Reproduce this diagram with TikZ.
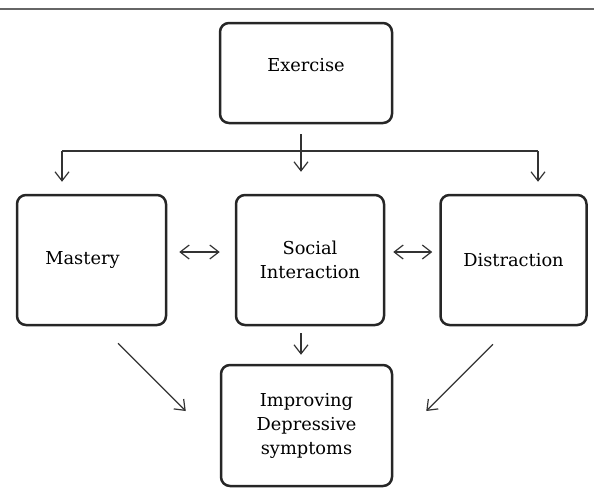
\documentclass[tikz,border=0pt]{standalone}
\usepackage{fontspec}
\setmainfont{DejaVu Serif}
\usetikzlibrary{arrows.meta}
\tikzset{
  box/.style={draw=black!85, line width=1.25pt, rounded corners=4.5pt, align=center,
              font=\fontsize{8.9}{12}\selectfont},
  arr/.style={black!80, line width=0.6pt, -{Straight Barb[length=4.5pt,width=7pt]}},
  darr/.style={black!80, line width=0.6pt, {Straight Barb[length=4.5pt,width=7pt]}-{Straight Barb[length=4.5pt,width=7pt]}},
  rule/.style={black!60, line width=1pt},
}
\begin{document}
\begin{tikzpicture}[x=0.5pt, y=-0.5pt]
  \useasboundingbox (0,0) rectangle (594,488);
  % top rule
  \draw[rule] (0,9) -- (594,9);
  % boxes
  \node[box, minimum width=86pt, minimum height=50pt, text depth=8pt] (ex) at (306,73) {Exercise};
  \node[box, minimum width=74.5pt, minimum height=65pt] (ma) at (91.5,260) {Mastery\hspace*{9pt}};
  \node[box, minimum width=74pt, minimum height=65pt] (so) at (310,260) {Social\\Interaction};
  \node[box, minimum width=73pt, minimum height=65pt] (di) at (513.5,260) {Distraction};
  \node[box, minimum width=85.5pt, minimum height=60.5pt] (im) at (306.5,425.5) {Improving\\Depressive\\symptoms};
  % exercise branches out
  \coordinate (hub) at (301,151);
  \coordinate (hubL) at (62,151);
  \coordinate (hubR) at (538,151);
  \draw[black!80, line width=0.6pt] (hubL) -- (hubR);
  \draw[arr, shorten <=5pt, shorten >=11pt] (hub |- ex.south) -- (hub |- so.north);
  \draw[arr, shorten >=6pt] (hubL) -- (hubL |- ma.north);
  \draw[arr, shorten >=6pt] (hubR) -- (hubR |- di.north);
  % links between mediators
  \draw[darr, shorten <=6pt, shorten >=7.5pt] ([yshift=4pt]ma.east) -- ([yshift=4pt]so.west);
  \draw[darr, shorten <=4pt, shorten >=3.5pt] ([yshift=4pt]so.east) -- ([yshift=4pt]di.west);
  % towards the outcome
  \draw[arr, shorten <=3.5pt, shorten >=4.5pt] (hub |- so.south) -- (hub |- im.north);
  \draw[arr] ([shift={(26.5,17)}]ma.south) -- ([shift={(-34,-14.5)}]im.west);
  \draw[arr] ([shift={(-20.5,18)}]di.south) -- ([shift={(33,-14.5)}]im.east);
\end{tikzpicture}
\end{document}
